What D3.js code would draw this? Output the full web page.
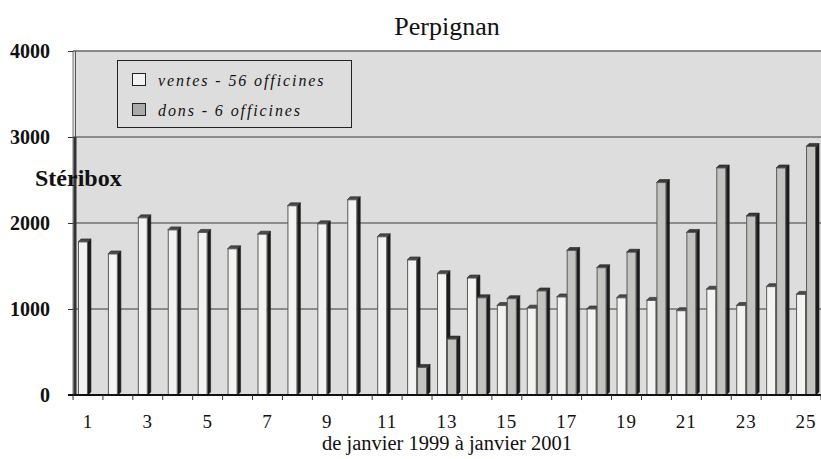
<!DOCTYPE html>
<html>
<head>
<meta charset="utf-8">
<script src="https://cdn.jsdelivr.net/npm/d3@7"></script>
<style>
  body { margin: 0; background: #fff; }
  text { font-family: "Liberation Serif", serif; fill: #111; }
</style>
</head>
<body>
<svg id="chart" width="821" height="459"></svg>
<script>
// data
const months = [1, 2, 3, 4, 5, 6, 7, 8, 9, 10, 11, 12, 13, 14, 15, 16, 17, 18, 19, 20, 21, 22, 23, 24, 25];
const ventes = [1780, 1640, 2060, 1920, 1890, 1700, 1870, 2200, 1990, 2270, 1840, 1570, 1410,
                1360, 1040, 1010, 1140, 1000, 1130, 1100, 980, 1230, 1040, 1260, 1170];
const dons = [null, null, null, null, null, null, null, null, null, null, null, 320, 650,
              1130, 1120, 1210, 1680, 1480, 1660, 2470, 1890, 2640, 2080, 2640, 2890];
const yTicks = [0, 1000, 2000, 3000, 4000];
const xLabels = [1, 3, 5, 7, 9, 11, 13, 15, 17, 19, 21, 23, 25];
const seriesNames = ['ventes - 56 officines', 'dons - 6 officines'];

const svg = d3.select('#chart');
const width = +svg.attr('width');

const plotLeft = 73, plotBottom = 395, plotTop = 51;
const depth = 3;

const xScale = d3.scaleBand()
    .domain(months)
    .range([plotLeft, width])
    .padding(0);

const inner = d3.scaleBand()
    .domain(['ventes', 'dons'])
    .range([0, xScale.bandwidth()])
    .paddingInner(0)
    .paddingOuter(0.5);

const yScale = d3.scaleLinear()
    .domain([0, 4000])
    .range([plotBottom, plotTop]);

const colors = { ventes: '#f3f3f1', dons: '#c3c3bf' };

// plot background
svg.append('rect')
    .attr('x', plotLeft)
    .attr('y', yScale(4000))
    .attr('width', width - plotLeft)
    .attr('height', plotBottom - yScale(4000))
    .attr('fill', '#dddddd');

// grid lines
svg.append('g')
  .selectAll('line')
  .data(yTicks.filter(d => d > 0))
  .join('line')
    .attr('x1', plotLeft)
    .attr('x2', width)
    .attr('y1', d => yScale(d))
    .attr('y2', d => yScale(d))
    .attr('stroke', d => d === 4000 ? '#666' : '#3a3a3a')
    .attr('stroke-width', d => d === 4000 ? 1.5 : 1);

// title
svg.append('text')
    .attr('x', 447)
    .attr('y', 35)
    .attr('text-anchor', 'middle')
    .style('font-size', '26px')
    .text('Perpignan');

// left wall
svg.append('line')
    .attr('x1', plotLeft).attr('x2', plotLeft)
    .attr('y1', yScale(4000)).attr('y2', plotBottom)
    .attr('stroke', '#777').attr('stroke-width', 1);
svg.append('line')
    .attr('x1', plotLeft + 2.5).attr('x2', plotLeft + 2.5)
    .attr('y1', yScale(4000)).attr('y2', plotBottom)
    .attr('stroke', '#555').attr('stroke-width', 1);
svg.append('line')
    .attr('x1', plotLeft + 2).attr('x2', plotLeft + 2)
    .attr('y1', yScale(3000)).attr('y2', plotBottom)
    .attr('stroke', '#333').attr('stroke-width', 3);

// Y axis title
svg.append('text')
    .attr('x', 35)
    .attr('y', 186)
    .style('font-size', '24px')
    .style('font-weight', 'bold')
    .text('Stéribox');

// Y axis
const yAxis = svg.append('g')
    .attr('transform', 'translate(' + plotLeft + ',0)')
    .call(d3.axisLeft(yScale).tickValues(yTicks).tickSize(5).tickPadding(18).tickFormat(d3.format('d')));
yAxis.select('.domain').remove();
yAxis.selectAll('line').attr('stroke', '#333');
yAxis.selectAll('text')
    .attr('dy', '0.34em')
    .style('font-family', '"Liberation Serif", serif')
    .style('font-size', '20px')
    .style('font-weight', 'bold')
    .attr('fill', '#111');

// bars, drawn as simple 3D columns
const rows = [];
months.forEach((m, i) => {
  rows.push({ m: m, key: 'ventes', v: ventes[i] });
  if (dons[i] != null) rows.push({ m: m, key: 'dons', v: dons[i] });
});

const bars = svg.append('g')
  .selectAll('g')
  .data(rows)
  .join('g');

const bx = d => xScale(d.m) + inner(d.key);
const bw = inner.bandwidth();

// side face
bars.append('polygon')
    .attr('points', d => {
      const x = bx(d) + bw, y = yScale(d.v);
      return [[x, y], [x + depth, y - depth], [x + depth, plotBottom - depth], [x, plotBottom]].join(' ');
    })
    .attr('fill', '#1c1c1c')
    .attr('stroke', '#1c1c1c')
    .attr('stroke-width', 0.6);

// top face
bars.append('polygon')
    .attr('points', d => {
      const x = bx(d), y = yScale(d.v);
      return [[x, y], [x + depth, y - depth], [x + bw + depth, y - depth], [x + bw, y]].join(' ');
    })
    .attr('fill', d => d.key === 'ventes' ? '#4a4a4a' : '#3a3a3a')
    .attr('stroke', '#222')
    .attr('stroke-width', 0.6);

// front face
bars.append('rect')
    .attr('x', d => bx(d) + 0.5)
    .attr('y', d => yScale(d.v))
    .attr('width', bw - 1)
    .attr('height', d => plotBottom - yScale(d.v))
    .attr('fill', d => colors[d.key])
    .attr('stroke', '#5a5a5a')
    .attr('stroke-width', 1);

// floor line and X axis
svg.append('line')
    .attr('x1', plotLeft - 5).attr('x2', width)
    .attr('y1', plotBottom).attr('y2', plotBottom)
    .attr('stroke', '#111').attr('stroke-width', 2);

svg.append('g')
  .selectAll('line')
  .data(months.concat([26]))
  .join('line')
    .attr('x1', d => plotLeft + (d - 1) * xScale.step())
    .attr('x2', d => plotLeft + (d - 1) * xScale.step())
    .attr('y1', plotBottom)
    .attr('y2', plotBottom + 5)
    .attr('stroke', '#333');

svg.append('g')
  .selectAll('text')
  .data(xLabels)
  .join('text')
    .attr('x', d => xScale(d) + xScale.bandwidth() / 2)
    .attr('y', 428)
    .attr('text-anchor', 'middle')
    .style('font-size', '19px')
    .style('letter-spacing', '1px')
    .text(d => d);

// X axis label
svg.append('text')
    .attr('x', 447)
    .attr('y', 450)
    .attr('text-anchor', 'middle')
    .style('font-size', '20.5px')
    .text('de janvier 1999 à janvier 2001');

// legend
const legend = svg.append('g');
legend.append('rect')
    .attr('x', 117.5).attr('y', 60.5)
    .attr('width', 234).attr('height', 67)
    .attr('fill', '#dddddd')
    .attr('stroke', '#222');

legend.selectAll('g')
  .data(seriesNames)
  .join('g')
    .attr('transform', (d, i) => 'translate(132,' + (73 + i * 30) + ')')
    .each(function(d, i) {
      const g = d3.select(this);
      g.append('rect')
          .attr('x', 0.5).attr('y', 0.5)
          .attr('width', 13).attr('height', 12)
          .attr('fill', i === 0 ? colors.ventes : '#aaaaa8')
          .attr('stroke', '#222');
      g.append('text')
          .attr('x', 26)
          .attr('y', 12.5)
          .style('font-size', '16px')
          .style('font-style', 'italic')
          .style('letter-spacing', '1.9px')
          .text(d);
    });
</script>
</body>
</html>
